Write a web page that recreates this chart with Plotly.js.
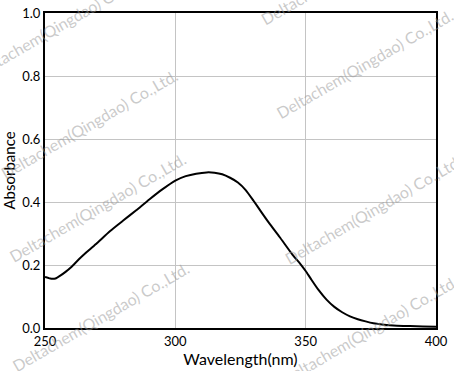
<!DOCTYPE html>
<html>
<head>
<meta charset="utf-8">
<script src="https://cdn.plot.ly/plotly-3.0.1.min.js"></script>
<style>html,body{margin:0;padding:0;background:#fff;}#chart{width:454px;height:371px;}</style>
</head>
<body>
<div id="chart"></div>
<script>
const wavelength = [250,252,253,254,256,258,260,263,266,270,275,280,285,290,295,300,304,308,312,315,318,321,324,327,330,333,336,340,345,348,350,352,355,358,361,364,367,370,373,376,380,385,390,395,400];
const absorbance = [0.162,0.157,0.156,0.157,0.167,0.179,0.193,0.218,0.241,0.270,0.308,0.341,0.374,0.408,0.440,0.468,0.482,0.490,0.494,0.493,0.488,0.477,0.462,0.438,0.404,0.368,0.333,0.289,0.232,0.203,0.181,0.156,0.120,0.090,0.067,0.050,0.037,0.028,0.021,0.015,0.010,0.007,0.006,0.005,0.004];
const xTicks = [250,300,350,400];
const yTicks = [0.0,0.2,0.4,0.6,0.8,1.0];
const watermarkText = "Deltachem(Qingdao) Co.,Ltd.";

const FONT = "Lato, 'Open Sans', sans-serif";
const wmPos = [[0.043,0.968],[0.115,0.648],[0.133,0.384],[0.143,0.038],[0.78,1.137],[0.818,0.841],[0.839,0.375],[0.831,-0.006]];
const annotations = wmPos.map(p => ({
  text: watermarkText, xref:'paper', yref:'paper', x:p[0], y:p[1],
  xanchor:'center', yanchor:'middle', showarrow:false, textangle:-30,
  font:{family:FONT, size:16, color:'rgba(150,150,150,0.5)'}
}));

const trace = {x: wavelength, y: absorbance, type:'scatter', mode:'lines',
  line:{color:'#000', width:2, shape:'spline', smoothing:0.6}, hoverinfo:'skip'};

const layout = {
  width:454, height:371,
  margin:{l:45, r:18, t:13, b:43},
  paper_bgcolor:'#fff', plot_bgcolor:'#fff',
  showlegend:false,
  font:{family:FONT, color:'#000', size:13},
  xaxis:{range:[250,400], tickvals:xTicks, ticktext:xTicks.map(String),
    showgrid:true, gridcolor:'#c4c4c4', gridwidth:1, zeroline:false,
    showline:true, mirror:true, linecolor:'#000', linewidth:2, ticks:'',
    tickfont:{family:FONT, size:13}, title:{text:'Wavelength(nm)', font:{family:FONT, size:16}, standoff:3}},
  yaxis:{range:[0,1.0], tickvals:yTicks, ticktext:yTicks.map(v=>v.toFixed(1)),
    showgrid:true, gridcolor:'#c4c4c4', gridwidth:1, zeroline:false,
    showline:true, mirror:true, linecolor:'#000', linewidth:2, ticks:'',
    tickfont:{family:FONT, size:13}, title:{text:'Absorbance', font:{family:FONT, size:15}, standoff:6}},
  annotations: annotations
};
Plotly.newPlot('chart', [trace], layout, {staticPlot:true, displayModeBar:false});
</script>
</body>
</html>
